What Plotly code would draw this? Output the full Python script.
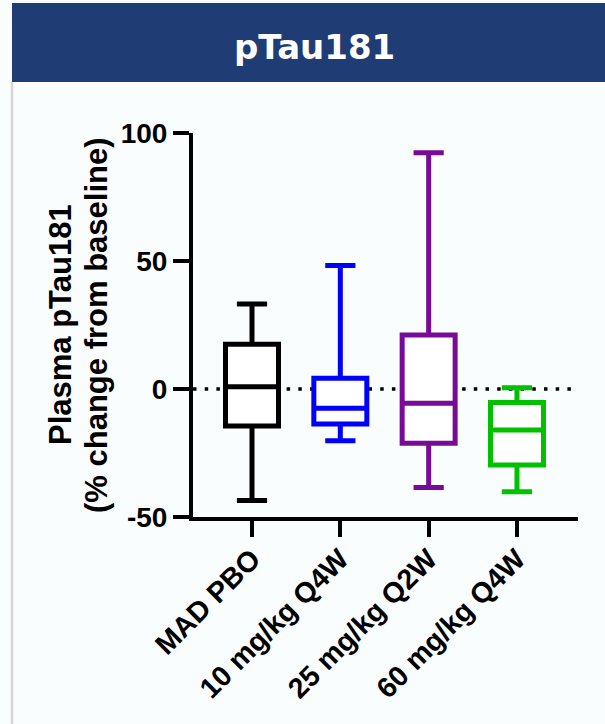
import plotly.graph_objects as go

# ---- data ----
categories = ["MAD PBO", "10 mg/kg Q4W", "25 mg/kg Q2W", "60 mg/kg Q4W"]
upper = [33.2, 48.2, 92.3, 0.5]
q3 = [17.5, 4.2, 21.1, -5.3]
median = [0.9, -7.5, -5.6, -16.0]
q1 = [-14.5, -13.7, -21.2, -29.7]
lower = [-43.6, -20.2, -38.5, -40.1]
colors = ["#000000", "#0000FF", "#780A98", "#00C000"]
y_ticks = [-50, 0, 50, 100]
title_text = "pTau181"
ytitle_line1 = "Plasma pTau181"
ytitle_line2 = "(% change from baseline)"

W, H = 605, 724
L, R, T, B = 193, 578, 133, 517
BG = "#FAFDFD"


def px_x(p):
    return (p - L) / (R - L)


def px_y(p):
    return (B - p) / (B - T)


fig = go.Figure()
for i, cat in enumerate(categories):
    fig.add_trace(go.Box(
        x=[cat], q1=[q1[i]], median=[median[i]], q3=[q3[i]],
        lowerfence=[lower[i]], upperfence=[upper[i]],
        width=0.6, whiskerwidth=0.57,
        line=dict(color=colors[i], width=5),
        fillcolor="white", boxpoints=False, showlegend=False,
        hoverinfo="skip",
    ))

shapes = [
    # header bar
    dict(type="rect", xref="paper", yref="paper",
         x0=px_x(12), x1=px_x(610), y0=px_y(82), y1=px_y(3),
         fillcolor="#1F3C74", line=dict(width=0), layer="below"),
    # left panel border
    dict(type="line", xref="paper", yref="paper",
         x0=px_x(12), x1=px_x(12), y0=px_y(82), y1=px_y(730),
         line=dict(color="#D6D6D6", width=2.5), layer="below"),
    # dotted zero line
    dict(type="line", xref="paper", yref="y",
         x0=0, x1=1, y0=0, y1=0,
         line=dict(color="black", width=3.5, dash="3.5px,8.2px"), layer="below"),
]

annotations = [
    dict(text=f"<b>{title_text}</b>", xref="paper", yref="paper",
         x=px_x(314), y=px_y(47), xanchor="center", yanchor="middle",
         showarrow=False, font=dict(family="DejaVu Sans", size=34, color="white")),
    dict(text=f"<b>{ytitle_line1}</b>", xref="paper", yref="paper",
         x=px_x(60), y=px_y(325), xanchor="center", yanchor="middle",
         textangle=-90, showarrow=False,
         font=dict(family="Liberation Sans", size=31, color="black")),
    dict(text=f"<b>{ytitle_line2}</b>", xref="paper", yref="paper",
         x=px_x(96), y=px_y(325), xanchor="center", yanchor="middle",
         textangle=-90, showarrow=False,
         font=dict(family="Liberation Sans", size=31, color="black")),
]

fig.update_layout(
    width=W, height=H,
    margin=dict(l=L, r=W - R, t=T, b=H - B, pad=0),
    paper_bgcolor=BG, plot_bgcolor=BG,
    boxmode="overlay",
    shapes=shapes, annotations=annotations,
    font=dict(family="Liberation Sans", color="black"),
)
fig.update_xaxes(
    type="category", categoryorder="array", categoryarray=categories,
    range=[-0.668, 3.691], showgrid=False, zeroline=False,
    showline=True, linecolor="black", linewidth=4,
    ticks="outside", ticklen=16, tickwidth=4, tickcolor="black",
    tickangle=-45, ticklabelstandoff=-6,
    tickfont=dict(family="Liberation Sans", size=28.5, color="black", weight="bold"),
    automargin=False,
)
fig.update_yaxes(
    range=[-50, 100], tickvals=y_ticks, ticktext=[str(v) for v in y_ticks],
    showgrid=False, zeroline=False,
    showline=True, linecolor="black", linewidth=4,
    ticks="outside", ticklen=16, tickwidth=4, tickcolor="black",
    tickfont=dict(family="Liberation Sans", size=28, color="black", weight="bold"),
    automargin=False,
)

fig.write_html("out.html")
